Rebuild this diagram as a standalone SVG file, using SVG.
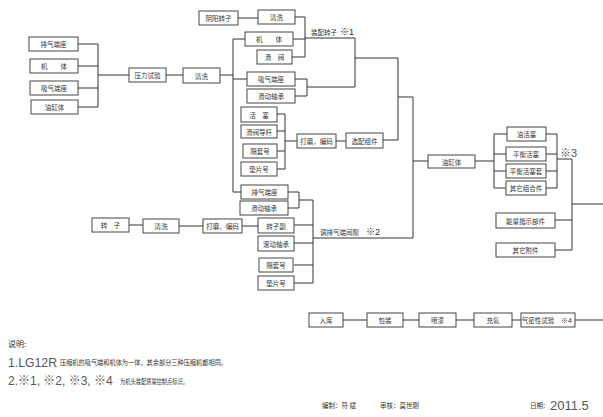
<svg xmlns="http://www.w3.org/2000/svg" width="603" height="417" viewBox="0 0 603 417">
<style>
.b{fill:#fff;stroke:#444;stroke-width:1}
.l{fill:none;stroke:#333;stroke-width:1}
.t{font-family:"Noto Sans CJK SC","Liberation Sans",sans-serif;font-size:6.5px;fill:#333;text-anchor:middle;dominant-baseline:central}
.s{font-family:"Noto Sans CJK SC","Liberation Sans",sans-serif;font-size:6.5px;fill:#333;dominant-baseline:central}
.big{font-family:"Liberation Sans","Noto Sans CJK SC",sans-serif;font-size:13px;fill:#555;dominant-baseline:central}
.m{font-family:"Liberation Sans","Noto Sans CJK SC",sans-serif;font-size:9px;fill:#333;dominant-baseline:central}
</style>
<rect width="603" height="417" fill="#fff"/>
<g id="connectors" class="l">
<path d="M78 44H98M78 66H98M78 88H98M78 107H98M98 44V107M98 75H129"/>
<path d="M166 75H183M220 75H233M233 39V192M233 39H245M233 79H247M233 192H241"/>
<path d="M238 18H258M295 17H305M293 39H305M292 57H305M305 17V57M305 38H355"/>
<path d="M295 79H307M295 96H307M307 79V96M307 87H355M355 38V87M355 58H398M398 58V140M398 97H413"/>
<path d="M277 114H285M277 131H285M277 151H285M277 169H285M285 114V169M285 141H297M336 141H346M383 140H398"/>
<path d="M413 97V238M413 161H428M475 161H494M494 134V188M494 134H507M494 154H506M494 171H506M494 188H506"/>
<path d="M546 134H557M546 154H557M546 171H557M546 188H557M557 134V188M557 159H572M572 159V250M555 220H572M555 250H572M572 204H603"/>
<path d="M288 192H299M288 208H299M299 192V208M299 200H313M313 200V283M294 225H313M294 243H313M294 265H313M294 283H313M313 238H413"/>
<path d="M129 225H143M179 226H203M242 226H258"/>
<path d="M343 320H367M403 320H419M456 320H474M512 320H521M575 320H603"/>
</g>
<g id="n1"><rect class="b" x="29" y="37" width="49" height="14"/><text class="t" x="53.5" y="44">排气端座</text></g>
<g id="n2"><rect class="b" x="30" y="59" width="48" height="14"/><text class="t" x="54" y="66">机　　体</text></g>
<g id="n3"><rect class="b" x="30" y="81" width="48" height="14"/><text class="t" x="54" y="88">吸气端座</text></g>
<g id="n4"><rect class="b" x="31" y="100" width="47" height="14"/><text class="t" x="54.5" y="107">油缸体</text></g>
<g id="n5"><rect class="b" x="129" y="68" width="37" height="14"/><text class="t" x="147.5" y="75">压力试验</text></g>
<g id="n6"><rect class="b" x="183" y="68" width="37" height="15"/><text class="t" x="201.5" y="75.5">清洗</text></g>
<g id="n7"><rect class="b" x="199" y="11" width="39" height="14"/><text class="t" x="218.5" y="18">阴阳转子</text></g>
<g id="n8"><rect class="b" x="258" y="10" width="37" height="14"/><text class="t" x="276.5" y="17">清洗</text></g>
<g id="n9"><rect class="b" x="245" y="32" width="48" height="14"/><text class="t" x="269" y="39">机　　体</text></g>
<g id="n10"><rect class="b" x="257" y="50" width="35" height="14"/><text class="t" x="274.5" y="57">滑　阀</text></g>
<g id="n11"><rect class="b" x="247" y="72" width="48" height="14"/><text class="t" x="271" y="79">吸气端座</text></g>
<g id="n12"><rect class="b" x="247" y="89" width="48" height="14"/><text class="t" x="271" y="96">滑动轴承</text></g>
<g id="lbl1"><text class="s" x="311" y="32">装配转子</text><text class="m" x="340" y="32">※1</text></g>
<g id="n13"><rect class="b" x="241" y="107" width="36" height="15"/><text class="t" x="259" y="114.5">活　塞</text></g>
<g id="n14"><rect class="b" x="241" y="125" width="36" height="13"/><text class="t" x="259" y="131.5">滑阀导杆</text></g>
<g id="n15"><rect class="b" x="243" y="144" width="34" height="14"/><text class="t" x="260" y="151">隔套号</text></g>
<g id="n16"><rect class="b" x="241" y="162" width="36" height="14"/><text class="t" x="259" y="169">垫片号</text></g>
<g id="n17"><rect class="b" x="297" y="134" width="39" height="14"/><text class="t" x="316.5" y="141">打磨，编码</text></g>
<g id="n18"><rect class="b" x="346" y="133" width="37" height="15"/><text class="t" x="364.5" y="140.5">选配组件</text></g>
<g id="n19"><rect class="b" x="241" y="185" width="47" height="14"/><text class="t" x="264.5" y="192">排气端座</text></g>
<g id="n20"><rect class="b" x="240" y="201" width="48" height="14"/><text class="t" x="264" y="208">滑动轴承</text></g>
<g id="n21"><rect class="b" x="92" y="218" width="37" height="14"/><text class="t" x="110.5" y="225">转　子</text></g>
<g id="n22"><rect class="b" x="143" y="219" width="36" height="14"/><text class="t" x="161" y="226">清洗</text></g>
<g id="n23"><rect class="b" x="203" y="219" width="39" height="14"/><text class="t" x="222.5" y="226">打磨，编码</text></g>
<g id="n24"><rect class="b" x="258" y="218" width="36" height="15"/><text class="t" x="276" y="225.5">转子副</text></g>
<g id="n25"><rect class="b" x="258" y="236" width="36" height="15"/><text class="t" x="276" y="243.5">滚动轴承</text></g>
<g id="n26"><rect class="b" x="259" y="258" width="34" height="14"/><text class="t" x="276" y="265">隔套号</text></g>
<g id="n27"><rect class="b" x="258" y="276" width="36" height="14"/><text class="t" x="276" y="283">垫片号</text></g>
<g id="lbl2"><text class="s" x="320" y="232">调排气端间隙</text><text class="m" x="366" y="232">※2</text></g>
<g id="n28"><rect class="b" x="428" y="155" width="47" height="13"/><text class="t" x="451.5" y="161.5">油缸体</text></g>
<g id="n29"><rect class="b" x="507" y="127" width="39" height="14"/><text class="t" x="526.5" y="134">油活塞</text></g>
<g id="n30"><rect class="b" x="506" y="147" width="40" height="14"/><text class="t" x="526" y="154">平衡活塞</text></g>
<g id="n31"><rect class="b" x="506" y="164" width="40" height="14"/><text class="t" x="526" y="171">平衡活塞套</text></g>
<g id="n32"><rect class="b" x="506" y="181" width="40" height="14"/><text class="t" x="526" y="188">其它组合件</text></g>
<g id="lbl3"><text class="big" x="560" y="153" style="font-size:11px">※3</text></g>
<g id="n33"><rect class="b" x="496" y="213" width="59" height="15"/><text class="t" x="525.5" y="220.5">能量指示部件</text></g>
<g id="n34"><rect class="b" x="496" y="243" width="59" height="14"/><text class="t" x="525.5" y="250">其它附件</text></g>
<g id="n35"><rect class="b" x="309" y="313" width="34" height="14"/><text class="t" x="326" y="320">入库</text></g>
<g id="n36"><rect class="b" x="367" y="313" width="36" height="14"/><text class="t" x="385" y="320">包装</text></g>
<g id="n37"><rect class="b" x="419" y="313" width="37" height="14"/><text class="t" x="437.5" y="320">喷漆</text></g>
<g id="n38"><rect class="b" x="474" y="313" width="38" height="14"/><text class="t" x="493" y="320">充氮</text></g>
<g id="n39"><rect class="b" x="521" y="313" width="54" height="14"/><text class="t" x="538" y="320">气密性试验</text><text class="m" x="561" y="320" style="font-size:7px">※4</text></g>
<g id="notes">
<text class="s" x="8" y="343" style="font-size:8px">说明:</text>
<text class="big" x="8" y="362" textLength="49" lengthAdjust="spacingAndGlyphs">1.LG12R</text>
<text class="s" x="60" y="362" textLength="167" lengthAdjust="spacingAndGlyphs">压缩机的吸气端和机体为一体，其余部分三种压缩机都相同。</text>
<text class="big" x="8" y="381" style="font-size:12px">2.※1, ※2, ※3, ※4</text>
<text class="s" x="120" y="381" textLength="68" lengthAdjust="spacingAndGlyphs">为机头装配质量控制点标识。</text>
</g>
<g id="sign">
<text class="s" x="322" y="405">编制：符 斌</text>
<text class="s" x="380" y="405">审核：莫世刚</text>
<text class="s" x="530" y="405" textLength="15" lengthAdjust="spacingAndGlyphs">日期:</text>
<text class="big" x="550" y="405">2011.5</text>
</g>
</svg>
